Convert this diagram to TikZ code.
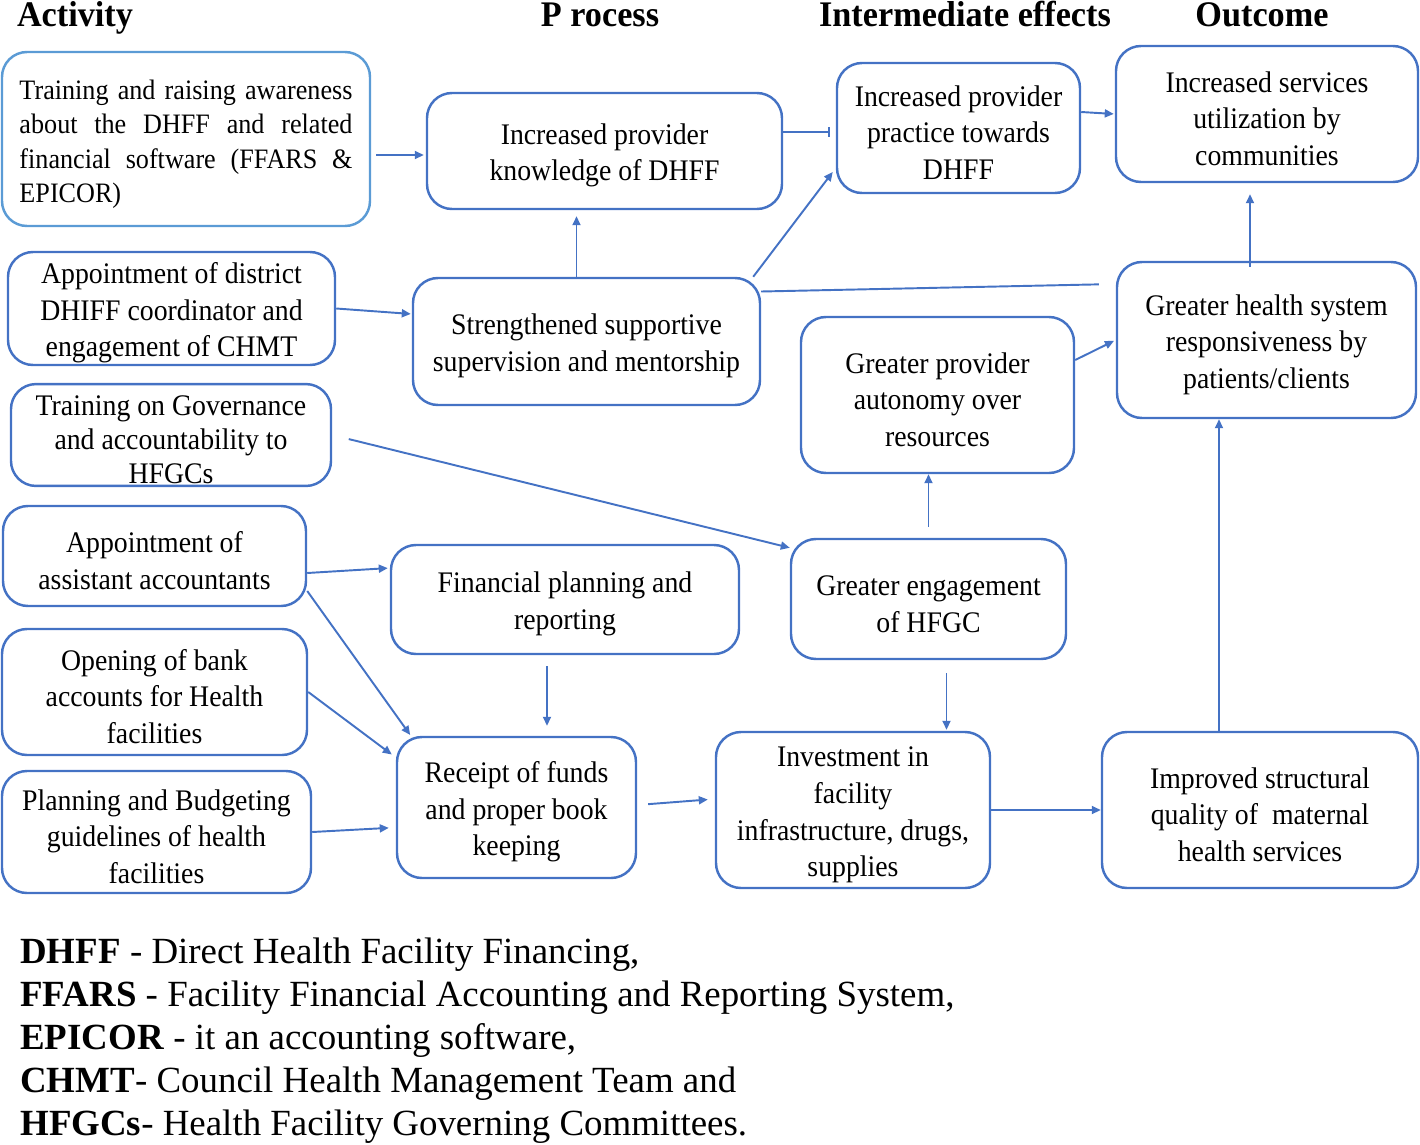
\documentclass[tikz,border=0pt]{standalone}
\usepackage{fontspec}
\setmainfont{Liberation Serif}
\newfontfamily\boxfont[FakeStretch=0.93]{Liberation Serif}
\newfontfamily\headfont[FakeStretch=0.95]{Liberation Serif}
\usetikzlibrary{arrows.meta}
\definecolor{boxblue}{HTML}{4472C4}
\definecolor{lightblue}{HTML}{5B9BD5}

\begin{document}
\begin{tikzpicture}[x=0.2mm, y=-0.2mm,
  box/.style={draw=boxblue, line width=1.4pt, rounded corners=5mm, align=flush center, inner xsep=0.5mm, inner ysep=1pt,
    font=\boxfont\fontsize{17}{20.8}\selectfont, text height=17pt},
  head/.style={anchor=base, font=\headfont\bfseries\fontsize{20.5}{22}\selectfont},
  every edge/.style={draw=boxblue, line width=1.1pt},
  >={Triangle[length=1.8mm, width=1.6mm]}]
  \useasboundingbox (0,0) rectangle (1420,1144);

  % column heads
  \node[head] (hact) at (75,26) {Activity};
  \node[head] (hpro) at (600,26) {P rocess};
  \node[head] (hint) at (965,26) {Intermediate effects};
  \node[head] (hout) at (1262,26) {Outcome};

  % activities
  \node[box, draw=lightblue, minimum width=73.6mm, minimum height=34.8mm, text width=66.6mm, align=flush left,
    font=\boxfont\fontsize{16}{19.6}\selectfont] (A1) at (186,139)
    {\makebox[\linewidth][s]{Training and raising awareness}\\
     \makebox[\linewidth][s]{about the DHFF and related}\\
     \makebox[\linewidth][s]{financial software (FFARS \&}\\
     EPICOR)};
  \node[box, text width=64.4mm, minimum height=22.6mm] (A2) at (171.5,308.5) {Appointment of district\\DHIFF coordinator and\\engagement of CHMT};
  \node[box, text width=63mm, minimum height=20mm, font=\boxfont\fontsize{17}{19.4}\selectfont] (A3) at (171,435) {Training on Governance\\and accountability to\\HFGCs};
  \node[box, text width=59.6mm, minimum height=20mm] (A4) at (154.5,556) {Appointment of\\assistant accountants};
  \node[box, text width=60mm, minimum height=25.2mm] (A5) at (154.5,692) {Opening of bank\\accounts for Health\\facilities};
  \node[box, text width=60.8mm, minimum height=24.4mm] (A6) at (156.5,832) {Planning and Budgeting\\guidelines of health\\facilities};

  % process
  \node[box, text width=70mm, minimum height=23.2mm] (P1) at (604.5,151) {Increased provider\\knowledge of DHFF};
  \node[box, text width=68.4mm, minimum height=25.4mm] (P2) at (586.5,341.5) {Strengthened supportive\\supervision and mentorship};
  \node[box, text width=68.6mm, minimum height=21.8mm] (P3) at (565,599.5) {Financial planning and\\reporting};
  \node[box, text width=46.8mm, minimum height=28.2mm] (P4) at (516.5,807.5) {Receipt of funds\\and proper book\\keeping};

  % intermediate effects
  \node[box, text width=47.6mm, minimum height=26mm] (I1) at (958.5,128) {Increased provider\\practice towards\\DHFF};
  \node[box, text width=53.6mm, minimum height=31.2mm] (I2) at (937.5,395) {Greater provider\\autonomy over\\resources};
  \node[box, text width=54mm, minimum height=24mm] (I3) at (928.5,599) {Greater engagement\\of HFGC};
  \node[box, text width=53.8mm, minimum height=31.2mm] (I4) at (853,810) {Investment in\\facility\\infrastructure, drugs,\\supplies};

  % outcome
  \node[box, text width=59.4mm, minimum height=27.2mm] (O1) at (1267,114) {Increased services\\utilization by\\communities};
  \node[box, text width=58.8mm, minimum height=31.2mm] (O2) at (1266.5,340) {Greater health system\\responsiveness by\\patients/clients};
  \node[box, text width=62.2mm, minimum height=31.2mm] (O3) at (1260,810) {Improved structural\\quality of~ maternal\\health services};

  \path[->]
  ([yshift=-0.8mm]A1.east |- P1.west) edge[shorten <=1mm, shorten >=0.4mm] ([yshift=-0.8mm]P1.west)
  (A2.east) edge[shorten >=0.2mm] ([yshift=5.5mm]P2.west)
  (A3.east) edge[shorten <=3.4mm] ([yshift=-2mm]I3.north west)
  ([yshift=-3.4mm]A4.east) edge[shorten >=0.4mm] ([yshift=6.3mm]P3.west)
  ([yshift=-7mm]A4.east) edge[shorten >=0.2mm] ([xshift=3mm]P4.north west)
  (A5.east) edge[shorten >=1mm] ([yshift=10mm]P4.west)
  (A6.east) edge[shorten >=1.4mm] ([yshift=-4mm]P4.west)
  ([xshift=-2mm]P2.north) edge[shorten >=1.2mm] ([xshift=-2mm]P2.north |- P1.south)
  ([xshift=-1.6mm]P2.north east) edge[shorten >=1mm] ([yshift=-8mm]I1.west)
  ([xshift=-3.6mm]P3.south) edge[shorten <=2.2mm, shorten >=2mm] ([xshift=-3.6mm]P3.south |- P4.north)
  ([yshift=0.5mm]P4.east) edge[shorten <=2.2mm, shorten >=1.4mm] ([yshift=2.2mm]I4.west)
  ([yshift=3.2mm]I1.east) edge[shorten >=0.2mm] (O1.west)
  ([yshift=7mm]I2.east) edge[shorten >=0.4mm] (O2.west)
  (I3.north) edge[shorten <=2.2mm] (I3.north |- I2.south)
  ([xshift=3.6mm]I3.south) edge[shorten <=2.6mm, shorten >=0.2mm] ([xshift=3.6mm]I3.south |- I4.north)
  (I4.east) edge (O3.west)
  ([xshift=-8.2mm]O3.north) edge ([xshift=-8.2mm]O3.north |- O2.south)
  ([xshift=-3.3mm]O2.north) edge[shorten <=-1.2mm, shorten >=2.2mm] ([xshift=-3.3mm]O2.north |- O1.south)
  ;
  \path
  ([yshift=3.8mm]P1.east) edge[-{Bar[width=2mm]}, shorten >=1.2mm] ([yshift=3.8mm]P1.east -| I1.west)
  ([yshift=10mm]P2.east) edge[shorten >=3.4mm] ([yshift=11.2mm]O2.west)
  ;

  % abbreviations
  \node[anchor=north west, inner sep=0, align=left, font=\fontsize{21}{24.4}\selectfont] (legend) at (20,938)
    {\textbf{DHFF} - Direct Health Facility Financing,\\
     \textbf{FFARS} - Facility Financial Accounting and Reporting System,\\
     \textbf{EPICOR} - it an accounting software,\\
     \textbf{CHMT}- Council Health Management Team and\\
     \textbf{HFGCs}- Health Facility Governing Committees.};
\end{tikzpicture}
\end{document}
